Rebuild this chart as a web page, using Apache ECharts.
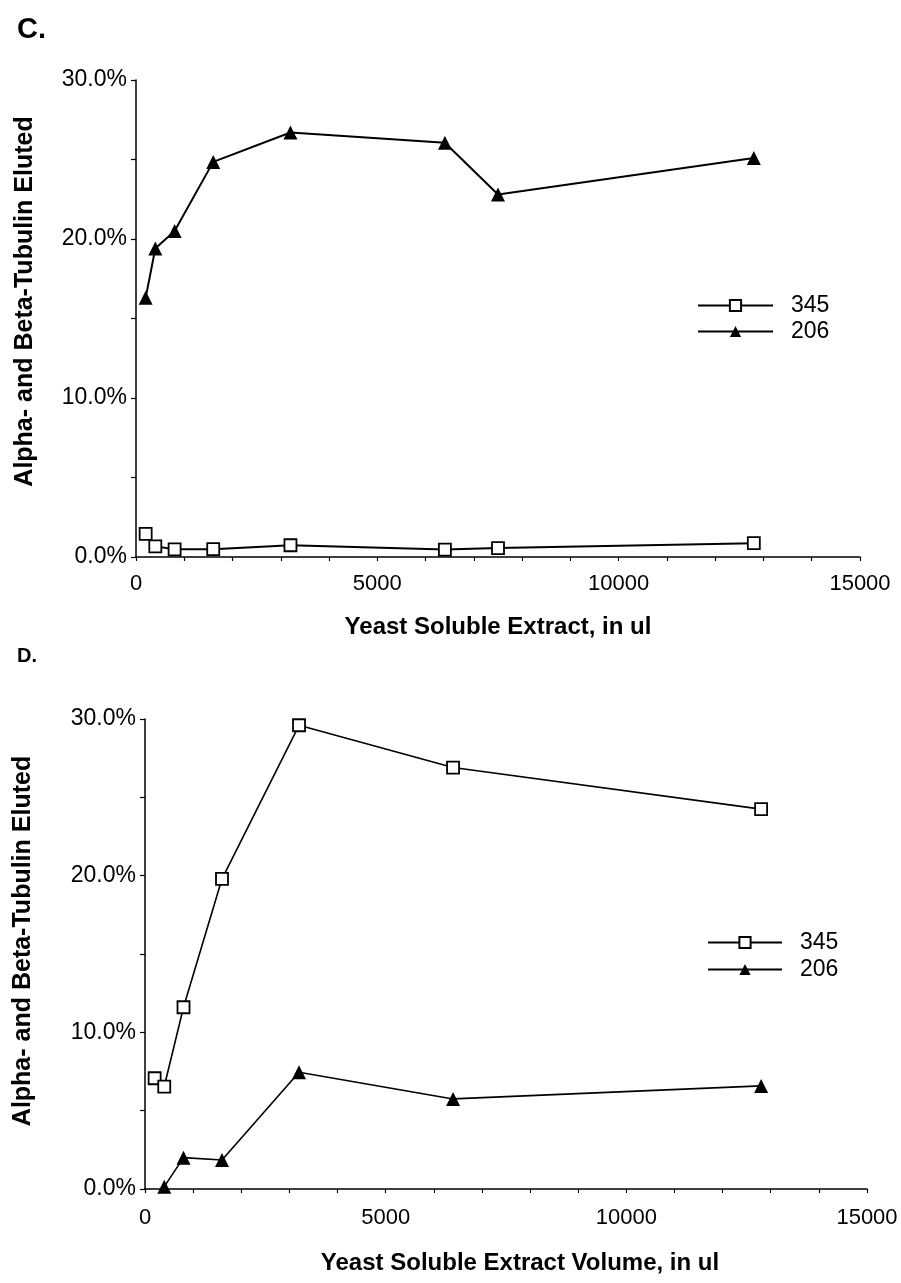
<!DOCTYPE html>
<html>
<head>
<meta charset="utf-8">
<script src="https://cdn.jsdelivr.net/npm/echarts@6/dist/echarts.min.js"></script>
<style>html,body{margin:0;padding:0;background:#fff}#c{width:901px;height:1283px}</style>
</head>
<body>
<div id="c"></div>
<script>
// Panel C data
const xC = [200, 400, 800, 1600, 3200, 6400, 7500, 12800];
const c345 = [1.46, 0.67, 0.48, 0.49, 0.74, 0.47, 0.56, 0.87];
const c206 = [16.3, 19.4, 20.5, 24.85, 26.7, 26.05, 22.8, 25.1];
// Panel D data
const xD345 = [200, 400, 800, 1600, 3200, 6400, 12800];
const d345 = [7.07, 6.54, 11.6, 19.8, 29.6, 26.9, 24.25];
const xD206 = [400, 800, 1600, 3200, 6400, 12800];
const d206 = [0.15, 2.0, 1.85, 7.45, 5.75, 6.58];
// Labels
const seriesNames = ['345', '206'];
const panelLabels = ['C.', 'D.'];
const yTitle = 'Alpha- and Beta-Tubulin Eluted';
const xTitles = ['Yeast Soluble Extract, in ul', 'Yeast Soluble Extract Volume, in ul'];

const FONT = "'Liberation Sans', Arial, Helvetica, sans-serif";
const zip = (xs, ys) => xs.map((x, i) => [x, ys[i]]);

function xAxisFor(idx, title, gap, pad, lm) {
  return {
    type: 'value', gridIndex: idx, min: 0, max: 15000, interval: 1000,
    axisLine: {show: true, lineStyle: {color: '#000', width: 1.5}},
    axisTick: {show: true, inside: false, length: 4, lineStyle: {color: '#000', width: 1.2}},
    splitLine: {show: false},
    axisLabel: {color: '#000', fontFamily: FONT, fontSize: 22, margin: lm,
      formatter: v => (v % 5000 === 0 ? String(v) : '')},
    name: title, nameLocation: 'middle', nameGap: gap,
    nameTextStyle: {color: '#000', fontFamily: FONT, fontSize: 24, fontWeight: 'bold', padding: pad}
  };
}
function yAxisFor(idx, gap, pad) {
  return {
    type: 'value', gridIndex: idx, min: 0, max: 30, interval: 5,
    axisLine: {show: true, lineStyle: {color: '#000', width: 1.5}},
    axisTick: {show: true, inside: false, length: 5, lineStyle: {color: '#000', width: 1.2}},
    splitLine: {show: false},
    axisLabel: {color: '#000', fontFamily: FONT, fontSize: 23, margin: 9,
      formatter: v => (v % 10 === 0 ? v.toFixed(1) + '%' : '')},
    name: yTitle, nameLocation: 'middle', nameGap: gap, nameRotate: 90,
    nameTextStyle: {color: '#000', fontFamily: FONT, fontSize: 25, fontWeight: 'bold', padding: pad}
  };
}
function sq(name, data, xi, lw) {
  return {
    name: name, type: 'line', xAxisIndex: xi, yAxisIndex: xi, data: data,
    symbol: 'rect', symbolSize: 12, showSymbol: true,
    lineStyle: {color: '#000', width: lw},
    itemStyle: {color: '#fff', borderColor: '#000', borderWidth: 1.8},
    animation: false, z: 3
  };
}
function tri(name, data, xi, lw) {
  return {
    name: name, type: 'line', xAxisIndex: xi, yAxisIndex: xi, data: data,
    symbol: 'triangle', symbolSize: 14, showSymbol: true,
    lineStyle: {color: '#000', width: lw},
    itemStyle: {color: '#000', borderColor: '#000', borderWidth: 0},
    animation: false, z: 3
  };
}

const chart = echarts.init(document.getElementById('c'), null, {renderer: 'canvas'});
chart.setOption({
  backgroundColor: '#fff',
  animation: false,
  title: [
    {text: panelLabels[0], left: 12, top: 10, textStyle: {fontFamily: FONT, fontSize: 29, fontWeight: 'bold', color: '#000'}},
    {text: panelLabels[1], left: 12, top: 641, textStyle: {fontFamily: FONT, fontSize: 20, fontWeight: 'bold', color: '#000'}}
  ],
  grid: [
    {left: 136, width: 724, top: 80, height: 477},
    {left: 145, width: 722, top: 719, height: 470}
  ],
  xAxis: [xAxisFor(0, xTitles[0], 58, [0, 0, 0, 0], 16), xAxisFor(1, xTitles[1], 62, [0, 0, 0, 28], 18)],
  yAxis: [yAxisFor(0, 98, [0, 0, 0, 34]), yAxisFor(1, 109, [0, 0, 0, 26])],
  legend: [
    {orient: 'vertical', left: 692, top: 289, itemWidth: 75, itemHeight: 14, itemGap: 3,
     data: seriesNames, selectedMode: false,
     textStyle: {fontFamily: FONT, fontSize: 23, color: '#000', padding: [0, 0, 0, 13]}},
    {orient: 'vertical', left: 702, top: 926, itemWidth: 74, itemHeight: 14, itemGap: 4,
     data: seriesNames, selectedMode: false,
     textStyle: {fontFamily: FONT, fontSize: 23, color: '#000', padding: [0, 0, 0, 13]}}
  ],
  series: [
    sq(seriesNames[0], zip(xC, c345), 0, 2),
    tri(seriesNames[1], zip(xC, c206), 0, 2),
    sq(seriesNames[0], zip(xD345, d345), 1, 1.6),
    tri(seriesNames[1], zip(xD206, d206), 1, 1.6)
  ]
});
</script>
</body>
</html>
